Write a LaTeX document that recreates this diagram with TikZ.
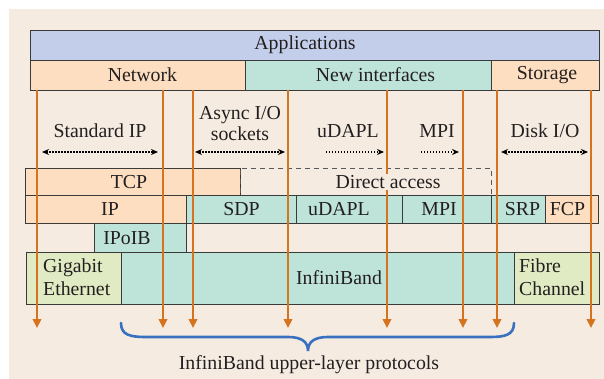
\documentclass[tikz,border=0pt]{standalone}
\usepackage{fontspec}
\setmainfont{Liberation Serif}
\usetikzlibrary{arrows.meta}

\definecolor{paper}{HTML}{F5EBE1}
\definecolor{appblue}{HTML}{C2CEEA}
\definecolor{peach}{HTML}{FDDEC0}
\definecolor{teal}{HTML}{BEE3D8}
\definecolor{lime}{HTML}{E1EBC3}
\definecolor{flowc}{HTML}{D6731E}
\definecolor{bracec}{HTML}{3A70C0}
\definecolor{edge}{HTML}{3A3A3A}
\definecolor{ink}{HTML}{231F20}

% block with its top-left and bottom-right corners in pixel units
\newcommand\blk[6]{%
  \node[box,fill=#6,anchor=north west,
        minimum width=#4pt-#2pt,minimum height=#5pt-#3pt] (#1) at (#2,#3) {};}

\begin{document}
\begin{tikzpicture}[x=1pt,y=-1pt,
  box/.style={draw=edge,line width=0.8pt,inner sep=0,outer sep=0},
  dashbox/.style={draw=edge!85,line width=0.9pt,dash pattern=on 5pt off 4pt,
                  inner sep=0,outer sep=0},
  lbl/.style={font=\fontsize{19.8}{22}\selectfont,text=ink,inner sep=0},
  flow/.style={draw=flowc,line width=2.6pt,
               -{Triangle[width=8.5pt,length=9pt]}},
  spanboth/.style={line width=1.4pt,dash pattern=on 1.3pt off 1.7pt,
                   {Stealth[length=7pt,width=6pt]}-{Stealth[length=7pt,width=6pt]}},
  spanright/.style={line width=1.4pt,dash pattern=on 1.3pt off 1.7pt,
                    -{Stealth[length=7pt,width=6pt]}},
  brace/.style={draw=bracec,line width=2.6pt,line cap=round}]

\useasboundingbox (0,0) rectangle (604,379);
\fill[paper] (9,9) rectangle (604,379);

% application layer
\blk{app}{30}{30}{599}{60}{appblue}
\blk{net}{30}{60}{245}{90}{peach}
\blk{newif}{245}{60}{491}{90}{teal}
\blk{stor}{491}{60}{599}{90}{peach}

% transport layer
\blk{tcp}{25}{168}{240}{195}{peach}
\node[dashbox,anchor=north west,minimum width=251pt,minimum height=27pt]
  (direct) at (240,168) {};

% protocol layer
\blk{ip}{25}{195}{186}{223}{peach}
\blk{sdp}{186}{195}{296}{223}{teal}
\blk{udapl}{296}{195}{402}{223}{teal}
\blk{mpi}{402}{195}{491}{223}{teal}
\blk{srp}{491}{195}{545}{223}{teal}
\blk{fcp}{545}{195}{598}{223}{peach}
\blk{ipoib}{94}{223}{186}{252}{teal}

% link layer
\blk{gbe}{26}{252}{121}{304}{lime}
\blk{ib}{121}{252}{514}{304}{teal}
\blk{fc}{514}{252}{599}{304}{lime}

% data paths
\foreach \i/\x in {1/37,2/163,3/193,4/288,5/387,6/463,7/497,8/591}{
  \coordinate (top\i) at (\x,90);
  \coordinate (end\i) at (\x,328);
  \draw[flow] (top\i) -- (end\i);
}

% texts
\node[lbl] (tapp) at (305,45) {Applications};
\node[lbl] (tnet) at (142.5,75) {Network};
\node[lbl] (tnew) at (375.5,75) {New interfaces};
\node[lbl] (tstor) at (547,75) {Storage};

\node[lbl] (tstd) at (100,131) {Standard IP};
\node[lbl,align=center] (tasync) at (240,123.5) {Async I/O\\[-1.5pt]sockets};
\node[lbl] (tudapl) at (348,131) {uDAPL};
\node[lbl] (tmpi) at (437,131) {MPI};
\node[lbl] (tdisk) at (545,131) {Disk I/O};

\coordinate (s1a) at (42,152);  \coordinate (s1b) at (158,152);
\coordinate (s2a) at (195,152); \coordinate (s2b) at (285,152);
\coordinate (s3a) at (326,152); \coordinate (s3b) at (384,152);
\coordinate (s4a) at (421,152); \coordinate (s4b) at (459,152);
\coordinate (s5a) at (501,152); \coordinate (s5b) at (588,152);
\draw[spanboth] (s1a) -- (s1b);
\draw[spanboth] (s2a) -- (s2b);
\draw[spanright] (s3a) -- (s3b);
\draw[spanright] (s4a) -- (s4b);
\draw[spanboth] (s5a) -- (s5b);

\node[lbl] (ttcp) at (129,182) {TCP};
\node[lbl,fill=paper,inner ysep=1.5pt,inner xsep=0.5pt] (tdirect) at (388,182) {Direct access};

\node[lbl] (tip) at (110,209.5) {IP};
\node[lbl] (tsdp) at (241.5,209.5) {SDP};
\node[lbl] (tud) at (339,209.5) {uDAPL};
\node[lbl] (tmp) at (439,209.5) {MPI};
\node[lbl] (tsrp) at (522.5,209.5) {SRP};
\node[lbl] (tfcp) at (567.5,209.5) {FCP};
\node[lbl] (tipoib) at (127,238) {IPoIB};

\node[lbl,align=left,anchor=west] (tgbe) at (43,277) {Gigabit\\[1.5pt]Ethernet};
\node[lbl] (tib) at (339,277.5) {InfiniBand};
\node[lbl,align=left,anchor=west] (tfc) at (519,277) {Fibre\\[1.5pt]Channel};

% upper-layer brace
\coordinate (bl) at (121,323);
\coordinate (bm) at (308,351);
\coordinate (br) at (514,323);
\draw[brace] (bl) .. controls (121,335) and (130,337) .. (146,337)
  -- (288,337) .. controls (302,337) and (308,342) .. (bm)
  .. controls (308,342) and (314,337) .. (328,337)
  -- (490,337) .. controls (505,337) and (514,335) .. (br);
\node[lbl] (tupper) at (309,365) {InfiniBand upper-layer protocols};
\end{tikzpicture}
\end{document}
